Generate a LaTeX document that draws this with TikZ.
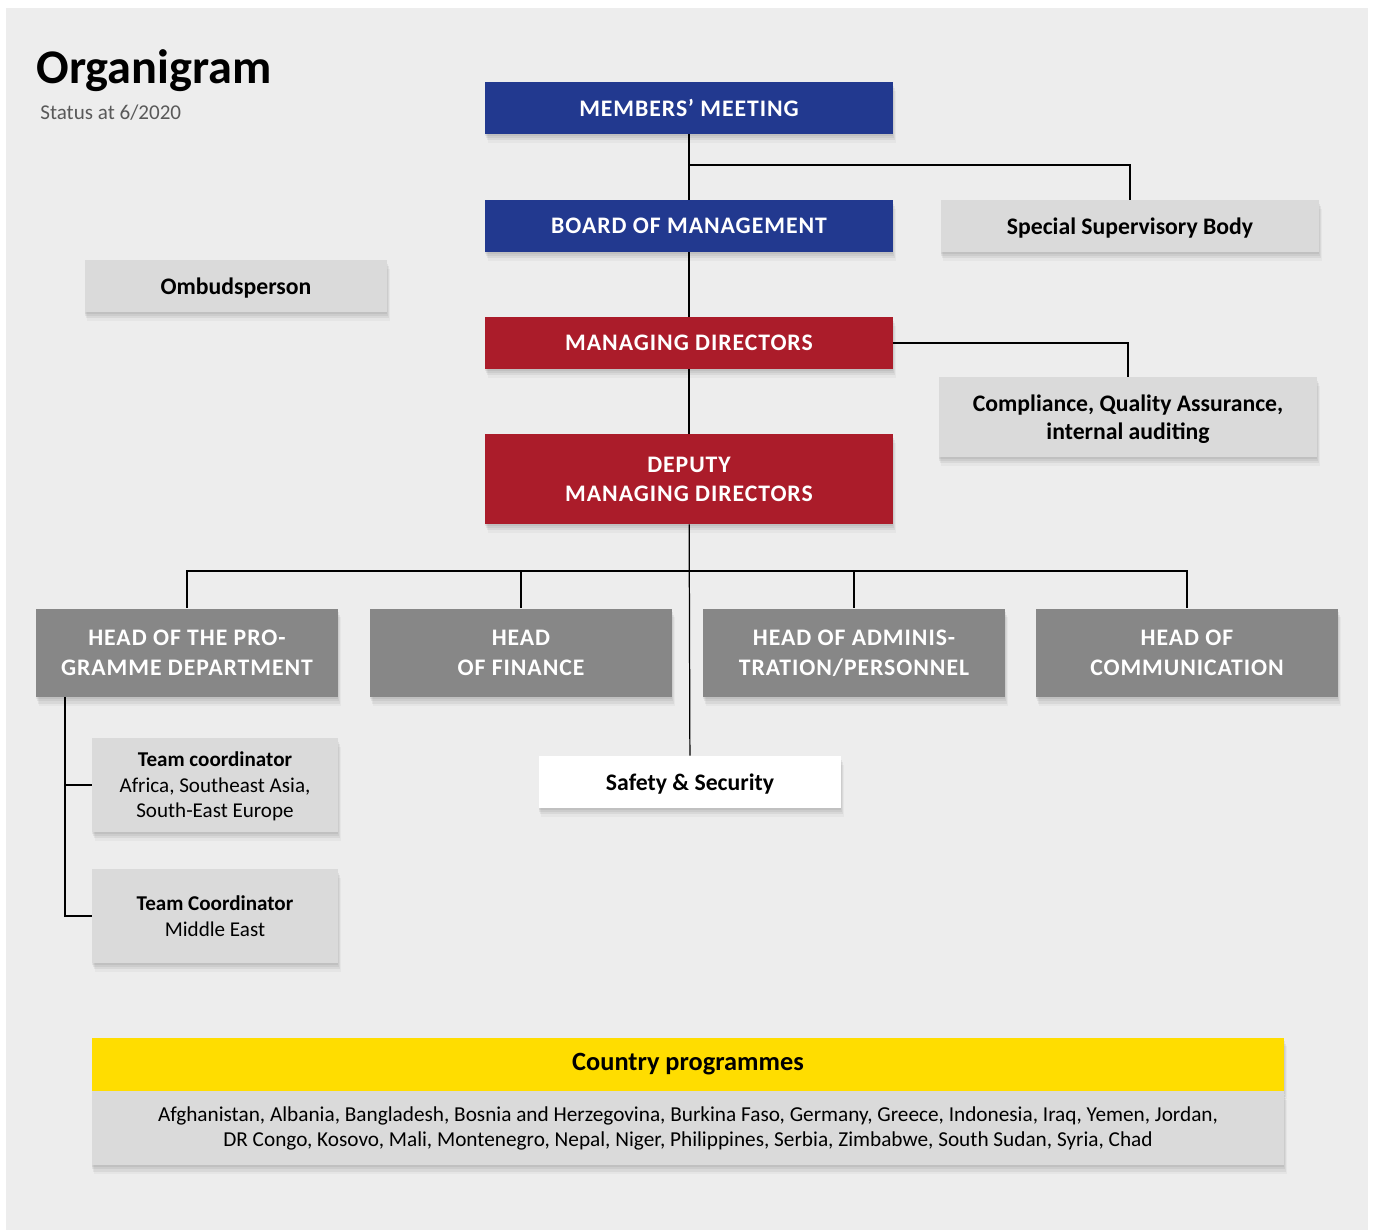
\documentclass[tikz,border=0pt]{standalone}
\usepackage{fontspec}
\setmainfont{Carlito}
\newfontfamily\capsfont[LetterSpace=4.0]{Carlito}
\usetikzlibrary{shadows}

\definecolor{hgrund}{HTML}{EDEDED}
\definecolor{blau}{HTML}{22398F}
\definecolor{rot}{HTML}{AB1C2A}
\definecolor{dunkelgrau}{HTML}{878787}
\definecolor{hellgrau}{HTML}{DADADA}
\definecolor{gelb}{HTML}{FFDD00}
\definecolor{textgrau}{HTML}{595959}

\begin{document}
\begin{tikzpicture}[x=0.02cm, y=-0.02cm,
    schatten/.style={
        general shadow={fill=black, opacity=0.05, shadow xshift=0pt, shadow yshift=-1pt},
        general shadow={fill=black, opacity=0.06, shadow xshift=0.5pt, shadow yshift=-2.2pt},
        general shadow={fill=black, opacity=0.05, shadow xshift=1pt, shadow yshift=-3.6pt},
        general shadow={fill=black, opacity=0.03, shadow xshift=1.5pt, shadow yshift=-5pt}},
    kasten/.style={rectangle, inner sep=0pt, schatten, align=center},
    leitung/.style={kasten, fill=blau, text=white, minimum width=8.16cm, minimum height=1.04cm,
        font=\capsfont\bfseries\fontsize{13.5}{16.5}\selectfont},
    direktion/.style={leitung, fill=rot},
    bereich/.style={kasten, fill=dunkelgrau, text=white, minimum width=6.04cm, minimum height=1.78cm,
        font=\capsfont\bfseries\fontsize{13.5}{16.8}\selectfont},
    stab/.style={kasten, fill=hellgrau, text=black, minimum height=1.04cm, text depth=0pt,
        font=\bfseries\fontsize{13.5}{16}\selectfont},
    team/.style={kasten, fill=hellgrau, text=black, minimum width=4.92cm, minimum height=1.88cm,
        text depth=0pt, font=\fontsize{12}{14.5}\selectfont},
    linie/.style={draw=black, line width=0.7pt}]

    % Hintergrund
    \useasboundingbox (0,0) rectangle (1373,1230);
    \fill[white] (0,0) rectangle (1373,1230);
    \fill[hgrund] (6,8) rectangle (1368,1230);

    % Titel
    \node[anchor=base west, inner sep=0pt, font=\bfseries\fontsize{27.5}{32}\selectfont] (titel) at (36,84) {Organigram};
    \node[anchor=base west, inner sep=0pt, text=textgrau, font=\fontsize{12}{14}\selectfont] (stand) at (40,120) {Status at 6/2020};

    % Leitung
    \node[leitung] (mm) at (689,108) {MEMBERS’ MEETING};
    \node[leitung] (gf) at (689,226) {BOARD OF MANAGEMENT};
    \node[direktion] (md) at (689,343) {MANAGING DIRECTORS};
    \node[direktion, minimum height=1.8cm] (dmd) at (689,479) {DEPUTY\\MANAGING DIRECTORS};

    % Stabsstellen
    \node[stab, minimum width=7.58cm] (ssb) at (1130,226) {Special Supervisory Body};
    \node[stab, minimum width=7.58cm, minimum height=1.6cm] (cqa) at (1128,417) {Compliance, Quality Assurance,\\internal auditing};
    \node[stab, minimum width=6.06cm] (omb) at (236,286) {Ombudsperson};
    \node[stab, fill=white, minimum width=6.06cm] (sus) at (690,782) {Safety \& Security};

    % Bereiche
    \node[bereich] (h1) at (187,653) {HEAD OF THE PRO-\\GRAMME DEPARTMENT};
    \node[bereich] (h2) at (521,653) {HEAD\\OF FINANCE};
    \node[bereich] (h3) at (854,653) {HEAD OF ADMINIS-\\TRATION/PERSONNEL};
    \node[bereich] (h4) at (1187,653) {HEAD OF\\COMMUNICATION};

    % Teams
    \node[team] (tc1) at (215,785) {\textbf{Team coordinator}\\Africa, Southeast Asia,\\South-East Europe};
    \node[team] (tc2) at (215,916) {\textbf{Team Coordinator}\\Middle East};

    % Laenderprogramme
    \node[kasten, fill=gelb, minimum width=23.86cm, minimum height=1.06cm,
        font=\bfseries\fontsize{15}{18}\selectfont] (lp) at (688,1064) {Country programmes};
    \node[kasten, fill=hellgrau, minimum width=23.86cm, minimum height=1.48cm, anchor=north,
        font=\fontsize{12.1}{14.5}\selectfont] (lpl) at (lp.south) {Afghanistan, Albania, Bangladesh, Bosnia and Herzegovina, Burkina Faso, Germany, Greece, Indonesia, Iraq, Yemen, Jordan,\\DR Congo, Kosovo, Mali, Montenegro, Nepal, Niger, Philippines, Serbia, Zimbabwe, South Sudan, Syria, Chad};

    % Verbindungen
    \coordinate (k1) at (689,165);
    \coordinate (k2) at (689,571);
    \coordinate (k3) at (65,697);
    \draw[linie] (mm) -- (gf);
    \draw[linie] (gf) -- (md);
    \draw[linie] (md) -- (dmd);
    \draw[linie] (dmd) -- (sus);
    \draw[linie] (k1) -| (ssb.north);
    \draw[linie] (md.east) -| (cqa.north);
    \foreach \h in {h1,h2,h3,h4} {
        \draw[linie] (k2) -| (\h.north);
    }
    \draw[linie] (k3) |- (tc2.west);
    \draw[linie] (k3 |- tc1.west) -- (tc1.west);
\end{tikzpicture}
\end{document}
